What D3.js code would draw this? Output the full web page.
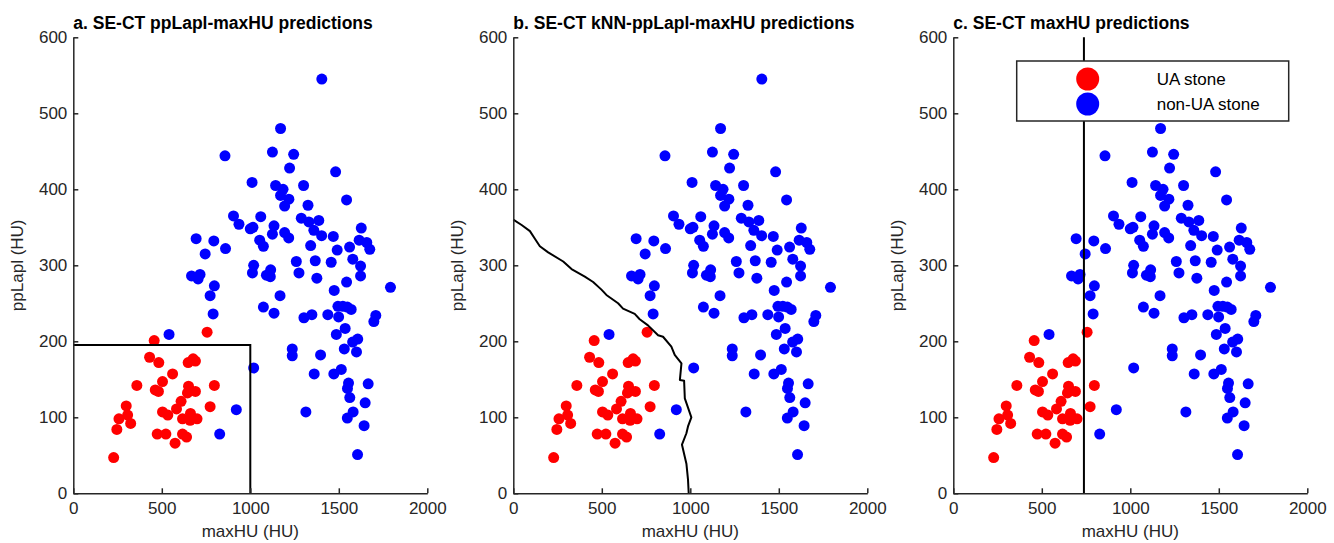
<!DOCTYPE html>
<html>
<head>
<meta charset="utf-8">
<script src="https://cdn.jsdelivr.net/npm/d3@7"></script>
<style>
  html, body { margin: 0; padding: 0; background: #fff; }
  svg { display: block; font-family: "Liberation Sans", Arial, Helvetica, sans-serif; }
</style>
</head>
<body>
<svg id="chart" width="1334" height="543"></svg>
<script>
// ---------------- data ----------------
const panelTitles = [
  "a. SE-CT ppLapl-maxHU predictions",
  "b. SE-CT kNN-ppLapl-maxHU predictions",
  "c. SE-CT maxHU predictions"
];
const xTicks = [0, 500, 1000, 1500, 2000];
const yTicks = [0, 100, 200, 300, 400, 500, 600];
const xLabel = "maxHU (HU)";
const yLabel = "ppLapl (HU)";
const legendLabels = ["UA stone", "non-UA stone"];

// UA stones (red): maxHU, ppLapl
const uaMaxHU = [457,756,431,483,649,677,690,561,504,359,463,481,797,651,645,690,609,583,773,299,307,258,324,246,228,504,534,617,662,660,699,474,523,617,640,575];
const uaPpLapl = [201,212,179,172,172,177,174,157,147,142,136,134,142,141,132,134,121,111,114,115,103,98,92,84,47,107,103,98,105,96,98,78,78,78,74,66];

// non-UA stones (blue)
const nonMaxHU = [1404,1171,857,1125,1245,1222,1482,1010,1143,1185,1301,1171,1218,1194,1326,1544,905,936,1059,1000,1015,1134,1125,1288,1331,1387,1194,1217,1359,1403,1469,1627,1053,1074,1341,1491,1561,1615,1658,1675,694,794,745,860,1260,1367,1457,1579,1623,1019,1012,1115,1091,1113,1275,1376,1623,668,716,705,797,773,1168,1474,1544,1792,1074,1134,790,1303,1348,1438,1499,1495,1523,1548,1570,1709,1698,1536,1486,1607,1578,1531,1600,1237,1237,1397,1361,1472,1514,1555,1549,1666,1562,1649,1581,1548,1314,1643,1606,541,1019,921,827];
const nonPpLapl = [545,480,444,449,446,428,423,409,405,400,405,392,387,378,379,386,365,354,364,348,350,352,341,362,357,359,343,336,346,339,338,349,333,325,326,320,324,333,330,321,335,332,315,322,305,306,304,308,299,300,290,294,287,285,290,283,286,286,288,282,273,260,260,267,278,271,245,237,236,231,235,235,232,246,246,245,242,234,226,217,209,203,199,190,186,190,181,182,157,157,163,145,138,144,126,119,107,99,107,89,51,209,165,110,78];

// panel a: rectangular decision region (maxHU < 1000 and ppLapl < 195)
const rectMaxHU = 1000;
const rectPpLapl = 195;

// panel b: kNN decision boundary
const knnMaxHU = [0,47,94,122,150,197,282,329,404,451,498,526,592,620,686,714,761,818,846,893,912,950,941,965,969,1006,987,978,953,978,987,991];
const knnPpLapl = [360,353,345,335,325,317,305,295,285,278,268,261,250,243,236,229,221,208,206,193,182,171,149,148,125,100,88,79,64,39,18,0];

// panel c: maxHU threshold
const thresholdMaxHU = 738;

// ---------------- drawing ----------------
const svg = d3.select("#chart");
const axisColor = "#262626";
const red = "#ff0000", blue = "#0000ff";
const panelLefts = [73.3, 513.3, 953.3];
const plotW = 354, plotTop = 37.3, plotBottom = 493.3;
const fontSize = 17;
const r = 5.5;

panelLefts.forEach((left, i) => {
  const x = d3.scaleLinear().domain([0, 2000]).range([left, left + plotW]);
  const y = d3.scaleLinear().domain([0, 600]).range([plotBottom, plotTop]);
  const g = svg.append("g");

  // points
  g.append("g").selectAll("circle").data(uaMaxHU).join("circle")
    .attr("cx", (d) => x(d)).attr("cy", (d, j) => y(uaPpLapl[j])).attr("r", r).attr("fill", red);
  g.append("g").selectAll("circle").data(nonMaxHU).join("circle")
    .attr("cx", (d) => x(d)).attr("cy", (d, j) => y(nonPpLapl[j])).attr("r", r).attr("fill", blue);

  // decision lines
  if (i === 0) {
    g.append("path")
      .attr("d", d3.line()([[x(0), y(rectPpLapl)], [x(rectMaxHU), y(rectPpLapl)], [x(rectMaxHU), y(0)]]))
      .attr("fill", "none").attr("stroke", "#000").attr("stroke-width", 2);
  } else if (i === 1) {
    g.append("path")
      .datum(knnMaxHU.map((d, j) => [d, knnPpLapl[j]]))
      .attr("d", d3.line().x(d => x(d[0])).y(d => y(d[1])))
      .attr("fill", "none").attr("stroke", "#000").attr("stroke-width", 2).attr("stroke-linejoin", "round");
  } else {
    g.append("line")
      .attr("x1", x(thresholdMaxHU)).attr("x2", x(thresholdMaxHU))
      .attr("y1", y(0)).attr("y2", y(600))
      .attr("stroke", "#000").attr("stroke-width", 2);
  }

  // axes
  const fmt = d3.format("d");
  const xAxis = d3.axisBottom(x).tickValues(xTicks).tickFormat(fmt).tickSizeInner(-5).tickSizeOuter(0).tickPadding(9);
  const yAxis = d3.axisLeft(y).tickValues(yTicks).tickFormat(fmt).tickSizeInner(-5).tickSizeOuter(0).tickPadding(6);
  const gx = g.append("g").attr("transform", `translate(0,${plotBottom})`).call(xAxis);
  const gy = g.append("g").attr("transform", `translate(${left},0)`).call(yAxis);
  [gx, gy].forEach(a => {
    a.select(".domain").attr("stroke", axisColor).attr("stroke-width", 1.5);
    a.selectAll(".tick line").attr("stroke", axisColor).attr("stroke-width", 1.5);
    a.selectAll(".tick text").attr("fill", axisColor).style("font-size", fontSize + "px")
      .style("font-family", '"Liberation Sans", Arial, sans-serif');
  });

  // axis labels
  g.append("text").attr("x", left + plotW / 2).attr("y", 537)
    .attr("text-anchor", "middle").attr("fill", axisColor).style("font-size", fontSize + "px").text(xLabel);
  g.append("text").attr("transform", `translate(${left - 50},${(plotTop + plotBottom) / 2}) rotate(-90)`)
    .attr("text-anchor", "middle").attr("fill", axisColor).style("font-size", fontSize + "px").text(yLabel);

  // title
  g.append("text").attr("x", left).attr("y", 28.5)
    .attr("fill", "#000").style("font-size", "17.5px").style("font-weight", "bold").text(panelTitles[i]);

  // legend
  if (i === 2) {
    const lg = g.append("g");
    lg.append("rect").attr("x", 1016.7).attr("y", 61).attr("width", 272).attr("height", 60)
      .attr("fill", "#fff").attr("stroke", axisColor).attr("stroke-width", 1.5);
    const cols = [red, blue];
    legendLabels.forEach((lab, k) => {
      const cy = 79 + k * 25;
      lg.append("circle").attr("cx", 1087.7).attr("cy", cy).attr("r", 11.5).attr("fill", cols[k]);
      lg.append("text").attr("x", 1156.7).attr("y", cy).attr("dy", "0.35em")
        .attr("fill", "#000").style("font-size", fontSize + "px").text(lab);
    });
  }
});
</script>
</body>
</html>
